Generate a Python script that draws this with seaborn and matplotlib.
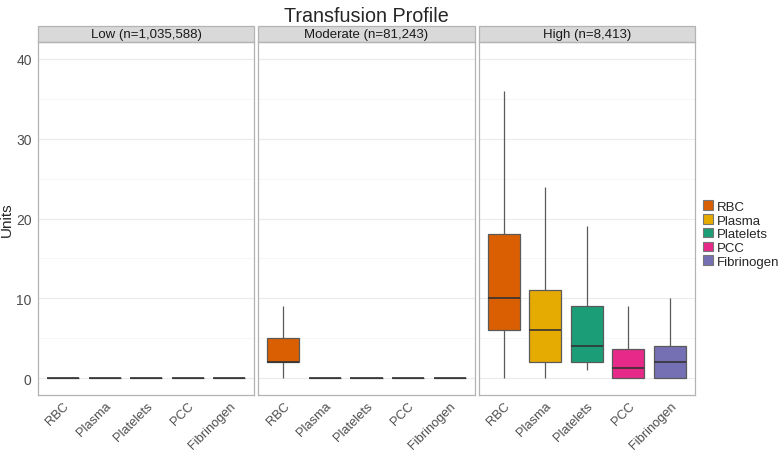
import numpy as np
import pandas as pd
import seaborn as sns
import matplotlib.pyplot as plt
from matplotlib.patches import Rectangle, Patch

# five-number summaries (whisker low, Q1, median, Q3, whisker high)
products = ["RBC", "Plasma", "Platelets", "PCC", "Fibrinogen"]
groups = ["Low (n=1,035,588)", "Moderate (n=81,243)", "High (n=8,413)"]
colors = ["#D95F02", "#E6AB02", "#1B9E77", "#E7298A", "#7570B3"]

low_summary = [
    [0, 0, 0, 0, 0],
    [0, 0, 0, 0, 0],
    [0, 0, 0, 0, 0],
    [0, 0, 0, 0, 0],
    [0, 0, 0, 0, 0],
]
moderate_summary = [
    [0, 2, 2, 5, 9],
    [0, 0, 0, 0, 0],
    [0, 0, 0, 0, 0],
    [0, 0, 0, 0, 0],
    [0, 0, 0, 0, 0],
]
high_summary = [
    [0, 6, 10, 18, 36],
    [0, 2, 6, 11, 24],
    [1, 2, 4, 9, 19],
    [0, 0, 1.25, 3.6, 9],
    [0, 0, 2, 4, 10],
]
summaries = [low_summary, moderate_summary, high_summary]

rows = []
for g, summ in zip(groups, summaries):
    for p, vals in zip(products, summ):
        for v in vals:
            rows.append({"group": g, "product": p, "units": v})
df = pd.DataFrame(rows)

sns.set_style("white")
plt.rcParams["font.family"] = ["Liberation Sans", "DejaVu Sans"]

fig, axes = plt.subplots(1, 3, figsize=(7.81, 4.52), dpi=100, sharey=True)
fig.subplots_adjust(left=38/781, right=695/781, top=1-43/452, bottom=1-396/452, wspace=0.019)

palette = dict(zip(products, colors))
for ax, g in zip(axes, groups):
    sub = df[df["group"] == g]
    ax.set_axisbelow(True)
    ax.set_yticks([5, 15, 25, 35], minor=True)
    ax.grid(True, which="major", color="#EBEBEB", linewidth=0.8)
    ax.grid(True, which="minor", axis="y", color="#F3F3F3", linewidth=0.5)
    sns.boxplot(data=sub, x="product", y="units", hue="product", order=products,
                palette=palette, saturation=1, whis=(0, 100), width=0.77,
                linecolor="#5A5A5A", linewidth=0.9, legend=False, ax=ax,
                capprops={"linewidth": 0})
    # darker median line
    for line in ax.lines[4::6]:
        line.set_color("#333333")
        line.set_linewidth(1.2)
    ax.set_xlim(-0.6, 4.6)
    ax.set_ylim(-2.1, 42.1)
    ax.set_yticks([0, 10, 20, 30, 40])
    ax.set_xlabel("")
    ax.set_ylabel("")
    for s in ax.spines.values():
        s.set_visible(True)
        s.set_color("#B3B3B3")
        s.set_linewidth(0.9)
    ax.tick_params(axis="both", which="major", length=3, color="#B3B3B3",
                   labelcolor="#4D4D4D", labelsize=10, pad=1.5)
    ax.tick_params(axis="x", which="major", labelsize=9.3, pad=0.5)
    ax.tick_params(axis="y", which="minor", length=0)
    plt.setp(ax.get_xticklabels(), rotation=45, ha="right", rotation_mode="anchor")
    # facet strip
    strip = Rectangle((0, 1.0), 1, 16/353, transform=ax.transAxes, clip_on=False,
                      facecolor="#D9D9D9", edgecolor="#B3B3B3", linewidth=0.9)
    ax.add_patch(strip)
    ax.text(0.5, 1.0 + 8/353, g, transform=ax.transAxes, ha="center", va="center",
            fontsize=9.5, color="#1A1A1A")

axes[0].set_ylabel("Units", fontsize=11)
axes[0].yaxis.set_label_coords(-0.11, 0.5)
for ax in axes[1:]:
    ax.tick_params(axis="y", labelleft=False, length=0)

fig.suptitle("Transfusion Profile", x=(38 + 695) / 2 / 781, y=0.985, fontsize=14.2)

handles = [Patch(facecolor=c, edgecolor="#777777", linewidth=0.8) for c in colors]
fig.legend(handles, products, loc="center left", bbox_to_anchor=(0.894, 0.48),
           frameon=False, fontsize=9.5, handlelength=0.75, handleheight=0.75,
           handletextpad=0.3, labelspacing=0.1, borderaxespad=0)

plt.savefig("out.png", dpi=100)
